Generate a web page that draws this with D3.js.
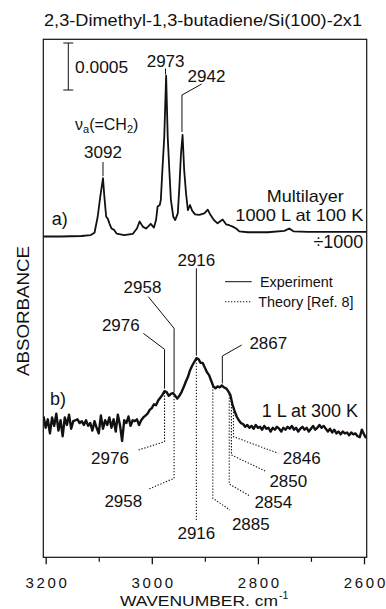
<!DOCTYPE html>
<html><head><meta charset="utf-8">
<script src="https://cdn.jsdelivr.net/npm/d3@7"></script>
<style>
body{margin:0;background:#fff}
svg{display:block}
text{font-family:"Liberation Sans",Arial,Helvetica,sans-serif;fill:#111}
</style>
</head><body>
<svg id="c" width="386" height="609"></svg>
<script>
// ---------------- data ----------------
const title = "2,3-Dimethyl-1,3-butadiene/Si(100)-2x1";
const xTicksMajor = [3200, 3000, 2800, 2600];
const xTicksMinor = [3100, 2900, 2700];
const scaleBarValue = 5;            // in units of 1e-4 absorbance -> 0.0005
const scaleBarLabel = "0.0005";

// a) Multilayer, 1000 L at 100 K (shown ÷1000), absorbance x1e-4
const wnA = [3204,3171,3133,3115,3108,3102,3097,3092,3089.5,3086,3083,3080,3076,3071,3066,3052,3036,3028,3023,3017,3011,3007,3002,2996,2992,2989,2985,2983,2980,2976.5,2973,2970,2967,2964,2959.5,2956,2951,2948,2945,2942,2939,2935.5,2932,2928,2924,2918.5,2910.5,2901,2894.5,2889.5,2883,2876,2866.5,2860,2854,2847.5,2841,2835,2819,2781.5,2750,2741,2733,2706,2643,2595];
const absA = [0,0,0.05,0.15,0.4,2.1,4.3,6.2,4.3,2.1,1.9,1.4,0.85,0.7,0.3,0.15,0.27,0.85,1.6,1.05,0.85,1.05,1.35,0.95,1.75,3.2,3.35,3.9,7.1,10.6,17.1,10.6,7.1,3.9,2.1,1.75,2.45,5.3,8.8,10.8,7.1,4.6,2.8,3.35,2.75,2.35,2.3,2.45,2.85,2.3,1.75,1.4,1.8,1.3,1.2,1.05,0.85,0.55,0.45,0.45,0.6,0.85,0.55,0.5,0.5,0.5];

// b) 1 L at 300 K, absorbance x1e-4
const wnB = [3204,3200,3196,3192,3188,3184,3180,3176,3172,3168,3164,3160,3156,3152,3148,3144,3140,3136,3132,3128,3124,3120,3116,3112,3108,3104,3100,3096,3092,3088,3084,3080,3076,3072,3068,3064,3060,3056,3052,3048,3044,3040,3036,3032,3028,3024,3020,3016,3012,3008,
3004,3000,2996,2992,2988,2984,2980,2976,2972,2968,2964,2960,2956,2952,2948,2944,2940,2936,2932,2928,2924,2920,2916,2912,2908,2904,2900,2896,2892,2888,2884,2880,2876,2872,2868,2864,2860,2856,2852,2848,2844,2840,2836,2832,2828,2824,2820,2816,
2812,2808,2804,2800,2796,2792,2788,2784,2780,2776,2772,2768,2764,2760,2756,2752,2748,2744,2740,2736,2732,2728,2724,2720,2716,2712,2708,2704,2700,2696,2692,2688,2684,2680,2676,2672,2668,2664,2660,2656,2652,2648,2644,2640,2636,2632,2628,2624,2620,2616,2612,2608,2604,2600,2596];
const absB = [0.7,-0.5,0.4,-1.1,0.6,-0.3,1.0,-0.8,0.3,-1.4,0.6,-0.2,0.9,-0.6,0.2,0.3,0.4,0,0.2,-0.2,0.3,-0.3,0,-0.8,0.2,-0.5,-1.1,0.8,-0.6,0.3,-0.2,0.6,-0.5,0.4,-0.9,0.9,-0.2,-1.9,0.3,0,0.7,-0.3,0.3,0.2,0.4,-0.2,0.3,0.6,0.8,1.0,
1.4,1.6,2.0,1.9,2.4,2.7,3.0,3.4,3.3,2.9,3.1,3.2,2.9,2.6,2.9,3.3,3.8,4.4,4.9,5.6,6.1,6.5,6.9,6.8,6.4,6.4,5.9,5.4,5.1,4.5,3.9,3.7,3.9,3.8,4.0,3.8,3.7,3.4,3.0,2.0,1.3,0.7,0.3,0,-0.1,-0.4,-0.2,-0.5,
-0.3,-0.6,-0.2,-0.5,-0.4,-0.7,-0.3,-0.6,-0.5,-0.9,-0.5,-0.7,-0.4,-0.6,-0.9,-0.5,-0.7,-0.4,-0.6,-0.3,-0.7,-0.5,-0.9,-0.6,-0.4,-0.7,-0.5,-0.9,-0.6,-0.3,-0.7,-0.5,-0.2,-0.5,-0.3,-0.6,-0.9,-0.6,-1.0,-0.7,-1.1,-0.9,-1.2,-0.9,-1.1,-1.0,-1.3,-1.0,-1.2,-1.1,-1.4,-1.5,-0.7,-1.2,-1.6];

const offsetA = 34.15, offsetB = 14.3;   // vertical stacking offsets (x1e-4)
const peaksA = [3092, 2973, 2942];
const peaksB = [2976, 2958, 2916, 2867];
const theoryB = [2976, 2958, 2916, 2885, 2854, 2850, 2846];
const legendLabels = ["Experiment", "Theory [Ref. 8]"];

// ---------------- drawing ----------------
const svg = d3.select("#c");
const F = {l:43.3, r:366.7, t:39.3, b:557.3};
const x = d3.scaleLinear().domain([3200, 2600]).range([45.7, 364]);
const y = d3.scaleLinear().domain([0, 55]).range([557.5, 40.5]);
const ink = "#111";

svg.append("defs").append("clipPath").attr("id","clip")
  .append("rect").attr("x",F.l).attr("y",F.t).attr("width",F.r-F.l).attr("height",F.b-F.t);

// frame
svg.append("rect").attr("x",F.l).attr("y",F.t).attr("width",F.r-F.l).attr("height",F.b-F.t)
  .attr("fill","none").attr("stroke",ink).attr("stroke-width",1.2);

function txt(s, cx, by, size, opts={}) {
  const t = svg.append("text").attr("x",cx).attr("y",by).attr("font-size",size)
    .attr("text-anchor", opts.anchor || "middle").text(s);
  if (opts.len) t.attr("textLength",opts.len).attr("lengthAdjust", opts.adj || "spacingAndGlyphs");
  return t;
}
const path = d3.line();
function leader(pts, dotted) {
  svg.append("path").attr("d", path(pts)).attr("fill","none").attr("stroke",ink)
    .attr("stroke-width", dotted ? 1.1 : 1)
    .attr("stroke-dasharray", dotted ? "1.3,1.7" : null);
}
function interp(wns, vals, w) {
  for (let i = 0; i < wns.length-1; i++) {
    if (w <= wns[i] && w >= wns[i+1]) {
      const t = (wns[i]-w)/(wns[i]-wns[i+1]);
      return vals[i] + (vals[i+1]-vals[i])*t;
    }
  }
  return vals[vals.length-1];
}

// title
txt(title, 203, 26, 17, {len: 318});

// axis
const gAx = svg.append("g").attr("transform",`translate(0,${F.b})`);
gAx.call(d3.axisBottom(x).tickValues(xTicksMajor).tickSize(7).tickFormat(d3.format("d")));
gAx.select(".domain").remove();
gAx.selectAll(".tick line").attr("stroke",ink).attr("stroke-width",1.3);
gAx.selectAll(".tick text").attr("y",31).attr("dy",0).attr("fill",ink)
  .attr("font-size",15).attr("font-family",'"Liberation Sans",Arial,sans-serif')
  .attr("textLength",41.5).attr("lengthAdjust","spacing");
const gMin = svg.append("g").attr("transform",`translate(0,${F.b})`);
gMin.call(d3.axisBottom(x).tickValues(xTicksMinor).tickSize(4.5).tickFormat(""));
gMin.select(".domain").remove();
gMin.selectAll(".tick line").attr("stroke",ink).attr("stroke-width",1.2);

const xl = txt("WAVENUMBER. cm", 199, 606, 15.5, {len: 158});
svg.append("text").attr("x", 279).attr("y", 599).attr("font-size",10.5).attr("text-anchor","start").text("-1");

// y label
svg.append("text").attr("transform","translate(29,311) rotate(-90)")
  .attr("text-anchor","middle").attr("font-size",17).attr("textLength",130)
  .attr("lengthAdjust","spacingAndGlyphs").text("ABSORBANCE");

// scale bar
const sbX = 68.3, sbBottom = 90;
const sbTop = sbBottom - (y(0) - y(scaleBarValue));
leader([[sbX, sbTop],[sbX, sbBottom]]);
leader([[sbX-5, sbTop],[sbX+5, sbTop]]);
leader([[sbX-5, sbBottom],[sbX+5, sbBottom]]);
txt(scaleBarLabel, 75, 73.3, 17.4, {anchor:"start"});

// spectra
const dataA = wnA.map((w,i) => [x(w), y(absA[i] + offsetA)]);
const dataB = wnB.map((w,i) => [x(w), y(absB[i] + offsetB)]);
const gS = svg.append("g").attr("clip-path","url(#clip)");
gS.append("path").attr("d", path(dataA)).attr("fill","none").attr("stroke",ink)
  .attr("stroke-width",1.8).attr("stroke-linejoin","round");
gS.append("path").attr("d", path(dataB)).attr("fill","none").attr("stroke",ink)
  .attr("stroke-width",2.4).attr("stroke-linejoin","round");

const yA = w => y(interp(wnA, absA, w) + offsetA);
const yB = w => y(interp(wnB, absB, w) + offsetB);

// spectrum a annotations
txt("a)", 51.7, 225, 18, {anchor:"start"});
txt("Multilayer", 266.7, 202, 17, {anchor:"start", len: 77});
txt("1000 L at 100 K", 363.3, 221, 17, {anchor:"end", len: 128});
txt("\u00F71000", 363.3, 248.3, 18, {anchor:"end"});
// 3092
const nu = txt("\u03BD", 75, 130, 16, {anchor:"start"});
nu.append("tspan").attr("font-size",11).attr("dy",3).text("a");
nu.append("tspan").attr("dy",-3).text("(=CH");
nu.append("tspan").attr("font-size",11).attr("dy",3).text("2");
nu.append("tspan").attr("dy",-3).text(")");
txt(String(peaksA[0]), x(peaksA[0]), 158.3, 17);
leader([[x(peaksA[0]), 162],[x(peaksA[0]), yA(peaksA[0]) - 2]]);
// 2973
txt(String(peaksA[1]), x(peaksA[1]) - 0.5, 66.7, 17);
leader([[x(peaksA[1]) - 0.6, 68.5],[x(peaksA[1]) - 0.6, 74.5]]);
// 2942
txt(String(peaksA[2]), 206.5, 81.7, 17);
leader([[201.7, 84],[x(peaksA[2]) - 0.6, 95],[x(peaksA[2]) - 0.6, yA(peaksA[2]) - 3]]);

// spectrum b annotations
txt("b)", 50, 405, 18, {anchor:"start"});
txt("1 L at 300 K", 261.7, 416.7, 18, {anchor:"start"});

const expLayout = {
  2976: {bend:349.3, end:[143.3,333.3], lx:120.8, ly:331},
  2958: {bend:328.3, end:[148.3,296.7], lx:142.5, ly:293.3},
  2916: {bend:268.3, end:null, lx:null, ly:266},
  2867: {bend:356, end:[241.7,345], lx:268.3, ly:349.3}
};
peaksB.forEach(w => {
  const L = expLayout[w], xx = x(w);
  const pts = [[xx, yB(w) - 2.5],[xx, L.bend]];
  if (L.end) pts.push(L.end);
  leader(pts, false);
  txt(String(w), L.lx == null ? xx : L.lx, L.ly, 17);
});

const thLayout = {
  2976: {bend:441.7, end:[138.3,450], lx:110, ly:464},
  2958: {bend:478.3, end:[148.3,489.3], lx:123.3, ly:506.7},
  2916: {bend:521.7, end:null, lx:null, ly:539},
  2885: {bend:498.3, end:[230,510], lx:250.8, ly:530},
  2854: {bend:484, end:[250,496], lx:273.3, ly:508.3},
  2850: {bend:455, end:[266.7,471.7], lx:288.3, ly:487.3},
  2846: {bend:436.7, end:[278.3,453.3], lx:301.7, ly:464}
};
theoryB.forEach(w => {
  const L = thLayout[w], xx = x(w);
  const pts = [[xx, yB(w) + 1.5],[xx, L.bend]];
  if (L.end) pts.push(L.end);
  leader(pts, true);
  txt(String(w), L.lx == null ? xx : L.lx, L.ly, 17);
});

// legend
leader([[225,281.7],[251.7,281.7]], false);
txt(legendLabels[0], 260, 286.7, 14.4, {anchor:"start"});
leader([[225,301.7],[251.7,301.7]], true);
txt(legendLabels[1], 258.3, 307.3, 14.4, {anchor:"start"});
</script>
</body></html>
